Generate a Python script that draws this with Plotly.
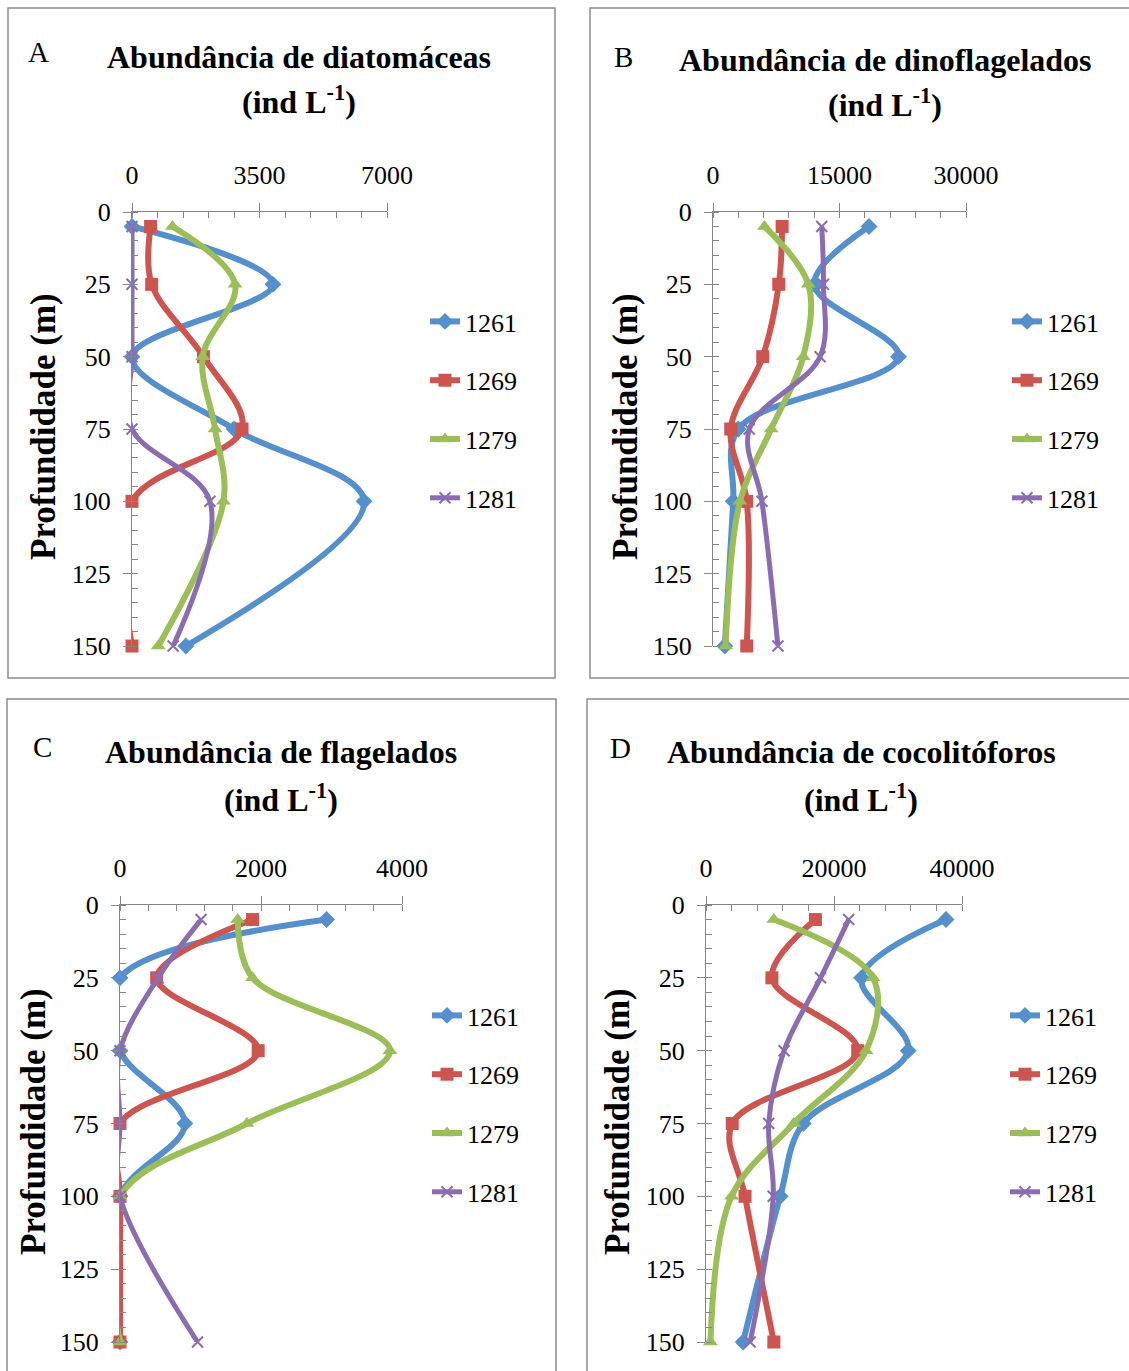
import plotly.graph_objects as go

W, H = 1129, 1371

# ---------------- data ----------------
depth = [5, 25, 50, 75, 100, 150]
stations = ["1261", "1269", "1279", "1281"]

# A - diatomáceas (ind L-1)
diatom_1261 = [0, 3870, 0, 2800, 6370, 1480]
diatom_1269 = [510, 540, 1960, 3020, 0, 0]
diatom_1279 = [1110, 2830, 1940, 2280, 2510, 720]
diatom_1281 = [0, 0, 0, 0, 2140, 1130]

# B - dinoflagelados
dino_1261 = [18500, 12000, 22000, 3000, 2400, 1400]
dino_1269 = [8200, 7800, 5900, 2100, 4000, 4000]
dino_1279 = [6100, 11300, 10700, 6900, 3200, 1500]
dino_1281 = [12900, 13100, 12700, 4300, 5800, 7700]

# C - flagelados
flag_1261 = [2930, 0, 0, 920, 0, 0]
flag_1269 = [1880, 520, 1960, 0, 0, 0]
flag_1279 = [1670, 1880, 3830, 1800, 0, 0]
flag_1281 = [1150, 540, 0, 0, 0, 1100]

# D - cocolitóforos
coco_1261 = [37500, 24300, 31600, 15200, 11600, 5800]
coco_1269 = [17100, 10300, 23700, 4100, 6100, 10600]
coco_1279 = [10600, 26100, 25000, 13700, 4000, 700]
coco_1281 = [22300, 17900, 12200, 9800, 10500, 6900]

titles = ["Abundância de diatomáceas", "Abundância de dinoflagelados",
          "Abundância de flagelados", "Abundância de cocolitóforos"]
letters = ["A", "B", "C", "D"]
x_max = [7000, 30000, 4000, 40000]
x_dtick = [3500, 15000, 2000, 20000]
y_ticks = [0, 25, 50, 75, 100, 125, 150]

series = [
    [diatom_1261, diatom_1269, diatom_1279, diatom_1281],
    [dino_1261, dino_1269, dino_1279, dino_1281],
    [flag_1261, flag_1269, flag_1279, flag_1281],
    [coco_1261, coco_1269, coco_1279, coco_1281],
]

# ---------------- style / layout ----------------
colors = ["#5590CC", "#CC5550", "#9BBE58", "#8A6DB0"]
symbols = ["diamond", "square", "triangle-up", "x-thin"]
lwidths = [6, 6, 6, 5]
FONT = "Liberation Serif, Times New Roman, serif"
AXC = "#868686"

# plot areas in pixels: (x0, x1, y0, y1)
areas = [(132, 387, 212, 646), (713, 966, 212, 646),
         (120, 402, 905, 1342), (706, 962, 905, 1342)]
boxes = [(8, 555, 8, 678), (590, 1135, 8, 678),
         (7, 556, 699, 1380), (587, 1135, 699, 1380)]
title_pos = [(299, 57, 100), (885, 60, 103), (281, 752, 798), (861, 752, 798)]
letter_pos = [(38, 52), (623, 57), (42, 747), (620, 748)]
ytitle_pos = [(43, 427), (625, 427), (33, 1122), (617, 1122)]
legend_pos = [(425, 298), (1007, 298), (427, 992), (1005, 992)]


def px(x):
    return x / W


def py(y):
    return 1 - y / H


fig = go.Figure()
layout = dict(width=W, height=H, margin=dict(l=0, r=0, t=0, b=0, pad=0, autoexpand=False),
              paper_bgcolor="white", plot_bgcolor="white", autosize=False,
              font=dict(family=FONT, color="black"), showlegend=True)
shapes = []
annotations = []

for i in range(4):
    sfx = "" if i == 0 else str(i + 1)
    xa, ya = "x" + sfx, "y" + sfx
    leg = "legend" + sfx
    for j in range(4):
        mline = dict(width=2, color=colors[j]) if j == 3 else dict(width=0)
        fig.add_trace(go.Scatter(
            x=series[i][j], y=depth, mode="lines+markers", name=stations[j],
            xaxis=xa, yaxis=ya, legend=leg, legendgroup=f"g{i}{j}",
            line=dict(color=colors[j], width=lwidths[j], shape="spline", smoothing=1),
            marker=dict(symbol=symbols[j], size=13 if j < 3 else 11,
                        color=colors[j], line=mline),
            cliponaxis=False,
        ))
    x0, x1, y0, y1 = areas[i]
    layout["xaxis" + sfx] = dict(
        domain=[px(x0), px(x1)], anchor=ya, side="top", range=[0, x_max[i]],
        dtick=x_dtick[i], tick0=0, tickformat="d", showline=True, linecolor=AXC,
        linewidth=1.3, ticks="outside", ticklen=8, tickcolor=AXC, tickwidth=1.3,
        minor=dict(dtick=x_dtick[i] / 5, ticks="inside", ticklen=6, tickcolor=AXC, tickwidth=1),
        showgrid=False, zeroline=False, ticklabelstandoff=8, automargin=False,
        tickfont=dict(family=FONT, size=26, color="black"), fixedrange=True)
    layout["yaxis" + sfx] = dict(
        domain=[py(y1), py(y0)], anchor=xa, range=[150, 0], tickvals=y_ticks,
        showline=True, linecolor=AXC, linewidth=1.3, ticks="outside", ticklen=8,
        tickcolor=AXC, tickwidth=1.3,
        minor=dict(dtick=5, ticks="inside", ticklen=6, tickcolor=AXC, tickwidth=1),
        showgrid=False, zeroline=False, ticklabelstandoff=7, automargin=False,
        tickfont=dict(family=FONT, size=26, color="black"), fixedrange=True)
    lx, ly = legend_pos[i]
    layout[leg] = dict(x=px(lx), y=py(ly), xanchor="left", yanchor="top",
                       bgcolor="rgba(0,0,0,0)", borderwidth=0,
                       font=dict(family=FONT, size=26, color="black"),
                       tracegroupgap=22, itemwidth=30)
    bx0, bx1, by0, by1 = boxes[i]
    shapes.append(dict(type="rect", xref="paper", yref="paper",
                       x0=px(bx0), x1=px(bx1), y0=py(by1), y1=py(by0),
                       line=dict(color="#8c8c8c", width=1.5), layer="below"))
    tx, ty1, ty2 = title_pos[i]
    annotations.append(dict(text="<b>" + titles[i] + "</b>", x=px(tx), y=py(ty1),
                            xref="paper", yref="paper", xanchor="center", yanchor="middle",
                            showarrow=False, font=dict(family=FONT, size=32, color="black")))
    annotations.append(dict(text="<b>(ind L<sup>-1</sup>)</b>", x=px(tx), y=py(ty2),
                            xref="paper", yref="paper", xanchor="center", yanchor="middle",
                            showarrow=False, font=dict(family=FONT, size=32, color="black")))
    lx_, ly_ = letter_pos[i]
    annotations.append(dict(text=letters[i], x=px(lx_), y=py(ly_), xref="paper", yref="paper",
                            xanchor="center", yanchor="middle", showarrow=False,
                            font=dict(family=FONT, size=29, color="black")))
    yx, yy = ytitle_pos[i]
    annotations.append(dict(text="<b>Profundidade (m)</b>", x=px(yx), y=py(yy),
                            xref="paper", yref="paper", xanchor="center", yanchor="middle",
                            textangle=-90, showarrow=False,
                            font=dict(family=FONT, size=35, color="black")))

layout["shapes"] = shapes
layout["annotations"] = annotations
fig.update_layout(**layout)
fig.write_html("out.html", config={"displayModeBar": False},
               post_script="document.body.style.margin='0';")
